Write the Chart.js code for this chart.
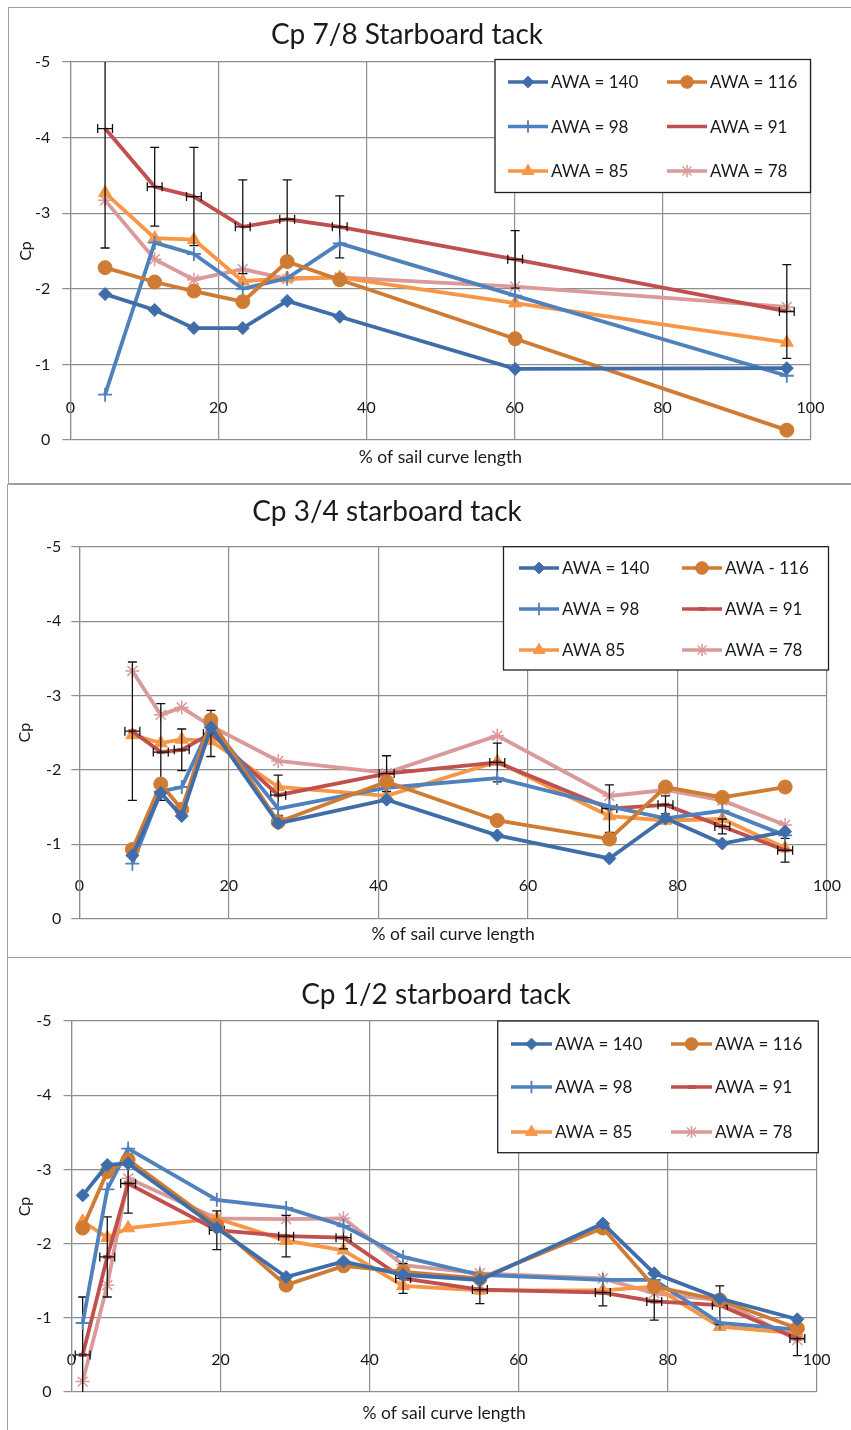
<!DOCTYPE html>
<html><head><meta charset="utf-8">
<script src="https://cdn.jsdelivr.net/npm/chart.js@4.4.1/dist/chart.umd.min.js"></script>
<style>
html,body{margin:0;padding:0;background:#fff;width:851px;height:1430px;overflow:hidden;}
.frame{position:absolute;border-left:1px solid #a0a0a0;border-top:1px solid #a0a0a0;border-bottom:1px solid #a0a0a0;box-sizing:border-box;}
canvas{position:absolute;left:0;}
</style></head><body>
<div class="frame" style="left:8px;top:7px;width:843px;height:477px"></div>
<div class="frame" style="left:7px;top:484px;width:844px;height:474px"></div>
<div class="frame" style="left:7px;top:957px;width:844px;height:480px;border-bottom:none"></div>
<canvas id="c1" width="851" height="484" style="top:0px"></canvas>
<canvas id="c2" width="851" height="473" style="top:484px"></canvas>
<canvas id="c3" width="851" height="473" style="top:957px"></canvas>
<script>
// ---------- DATA ----------
const xTicks = [0, 20, 40, 60, 80, 100];
const yTicks = [-5, -4, -3, -2, -1, 0];
const xAxisTitle = '% of sail curve length';
const yAxisTitle = 'Cp';

// Panel 1: Cp 7/8 Starboard tack
const p1Title = 'Cp 7/8 Starboard tack';
const p1Labels = ['AWA = 140', 'AWA = 116', 'AWA = 98', 'AWA = 91', 'AWA = 85', 'AWA = 78'];
const p1X   = [4.7, 11.4, 16.7, 23.3, 29.3, 36.4, 60.1, 96.8];
const p1_140 = [-1.93, -1.72, -1.48, -1.48, -1.84, -1.63, -0.94, -0.95];
const p1_116 = [-2.28, -2.09, -1.97, -1.83, -2.36, -2.12, -1.34, -0.13];
const p1_98  = [-0.60, -2.61, -2.46, -2.00, -2.14, -2.60, -1.91, -0.85];
const p1_91  = [-4.12, -3.35, -3.22, -2.82, -2.92, -2.82, -2.39, -1.70];
const p1_85  = [-3.27, -2.67, -2.65, -2.10, -2.14, -2.15, -1.81, -1.29];
const p1_78  = [-3.17, -2.39, -2.12, -2.26, -2.13, -2.15, -2.03, -1.76];
const p1ErrY = [1.58, 0.52, 0.65, 0.62, 0.52, 0.41, 0.38, 0.62];
const p1ErrX = [1, 1, 1, 1, 1, 1, 1, 1];

// Panel 2: Cp 3/4 starboard tack
const p2Title = 'Cp 3/4 starboard tack';
const p2Labels = ['AWA = 140', 'AWA - 116', 'AWA = 98', 'AWA = 91', 'AWA 85', 'AWA = 78'];
const p2X   = [7.1, 10.9, 13.7, 17.6, 26.6, 41.1, 55.9, 70.9, 78.4, 86.0, 94.4];
const p2_140 = [-0.85, -1.69, -1.38, -2.57, -1.28, -1.60, -1.12, -0.81, -1.35, -1.01, -1.17];
const p2_116 = [-0.93, -1.81, -1.47, -2.67, -1.30, -1.84, -1.32, -1.07, -1.77, -1.63, -1.77];
const p2_98  = [-0.74, -1.71, -1.77, -2.61, -1.48, -1.76, -1.89, -1.51, -1.35, -1.45, -1.12];
const p2_91  = [-2.52, -2.24, -2.27, -2.49, -1.66, -1.95, -2.10, -1.48, -1.53, -1.24, -0.92];
const p2_85  = [-2.47, -2.36, -2.41, -2.39, -1.77, -1.65, -2.11, -1.38, -1.32, -1.34, -0.95];
const p2_78  = [-3.33, -2.74, -2.84, -2.59, -2.12, -1.96, -2.46, -1.65, -1.73, -1.59, -1.26];
const p2ErrY = [0.93, 0.65, 0.28, 0.31, 0.27, 0.24, 0.26, 0.32, 0.12, 0.10, 0.16];
const p2ErrX = [1, 1, 1, 1, 1, 1, 1, 1, 1, 1, 1];

// Panel 3: Cp 1/2 starboard tack
const p3Title = 'Cp 1/2 starboard tack';
const p3Labels = ['AWA = 140', 'AWA = 116', 'AWA = 98', 'AWA = 91', 'AWA = 85', 'AWA = 78'];
const p3X   = [1.5, 4.8, 7.6, 19.5, 28.8, 36.5, 44.5, 54.8, 71.3, 78.2, 87.0, 97.4];
const p3_140 = [-2.65, -3.06, -3.08, -2.21, -1.55, -1.76, -1.58, -1.51, -2.27, -1.60, -1.26, -0.98];
const p3_116 = [-2.21, -2.97, -3.13, -2.25, -1.44, -1.70, -1.62, -1.53, -2.21, -1.42, -1.24, -0.86];
const p3_98  = [-0.93, -2.73, -3.28, -2.59, -2.48, -2.24, -1.82, -1.58, -1.51, -1.51, -0.93, -0.84];
const p3_91  = [-0.50, -1.82, -2.81, -2.18, -2.10, -2.08, -1.53, -1.38, -1.34, -1.22, -1.17, -0.72];
const p3_85  = [-2.30, -2.08, -2.21, -2.34, -2.04, -1.91, -1.43, -1.37, -1.37, -1.42, -0.88, -0.79];
const p3_78  = [-0.14, -1.44, -2.88, -2.34, -2.33, -2.34, -1.71, -1.60, -1.53, -1.33, -1.24, -0.70];
const p3ErrY = [0.78, 0.54, 0.40, 0.26, 0.28, 0.15, 0.20, 0.19, 0.18, 0.25, 0.26, 0.23];
const p3ErrX = [1, 1, 1, 1, 1, 1, 1, 1, 1, 1, 1, 1];

// ---------- STYLE ----------
const FONT = 'Lato, "Open Sans", sans-serif';
const TEXT = '#1a1a1a';
const GRID = '#8e8e8e';
const seriesStyles = [
  {color: '#3E6DA9', pointStyle: 'rectRot', radius: 6.5, bw: 1},
  {color: '#CF7B33', pointStyle: 'circle', radius: 7, bw: 1},
  {color: '#4F81BD', pointStyle: 'cross', radius: 7, bw: 1.8},
  {color: '#C0504D', pointStyle: 'line', radius: 4, bw: 4},
  {color: '#F79646', pointStyle: 'triangle', radius: 7.5, bw: 1},
  {color: '#D99A99', pointStyle: 'star', radius: 7, bw: 1.5}
];

// ---------- PLUGINS ----------
const errorBarPlugin = {
  id: 'errorBars',
  afterDatasetDraw(chart, args, opts) {
    if (!opts || !opts.yErr || args.index !== opts.datasetIndex) return;
    const xs = chart.scales.x, ys = chart.scales.y, a = chart.chartArea, ctx = chart.ctx;
    const ds = chart.data.datasets[args.index];
    const c = 4.5;
    ctx.save();
    ctx.beginPath(); ctx.rect(a.left, a.top, a.right - a.left, a.bottom - a.top); ctx.clip();
    ctx.strokeStyle = '#111'; ctx.lineWidth = 1.3;
    ds.data.forEach((p, i) => {
      const px = xs.getPixelForValue(p.x), py = ys.getPixelForValue(p.y);
      const y1 = ys.getPixelForValue(p.y - opts.yErr[i]), y2 = ys.getPixelForValue(p.y + opts.yErr[i]);
      const x1 = xs.getPixelForValue(p.x - opts.xErr[i]), x2 = xs.getPixelForValue(p.x + opts.xErr[i]);
      ctx.beginPath();
      ctx.moveTo(px, y1); ctx.lineTo(px, y2);
      ctx.moveTo(px - c, y1); ctx.lineTo(px + c, y1);
      ctx.moveTo(px - c, y2); ctx.lineTo(px + c, y2);
      ctx.moveTo(x1, py); ctx.lineTo(x2, py);
      ctx.moveTo(x1, py - c); ctx.lineTo(x1, py + c);
      ctx.moveTo(x2, py - c); ctx.lineTo(x2, py + c);
      ctx.stroke();
    });
    ctx.restore();
  }
};

function markerAt(ctx, st, x, y, showMarker) {
  if (!showMarker) return;
  ctx.save();
  ctx.fillStyle = st.color; ctx.strokeStyle = st.color; ctx.lineWidth = st.bw;
  if (Chart.helpers && Chart.helpers.drawPoint) {
    Chart.helpers.drawPoint(ctx, {pointStyle: st.pointStyle, radius: st.radius * 0.9, rotation: 0, borderWidth: st.bw}, x, y);
  }
  ctx.restore();
}

const boxLegendPlugin = {
  id: 'boxLegend',
  afterDraw(chart, args, o) {
    if (!o || !o.box) return;
    const ctx = chart.ctx;
    ctx.save();
    const b = o.box;
    ctx.fillStyle = '#fff';
    ctx.fillRect(b.l, b.t, b.r - b.l, b.b - b.t);
    ctx.strokeStyle = '#222'; ctx.lineWidth = 1.3;
    ctx.strokeRect(b.l, b.t, b.r - b.l, b.b - b.t);
    ctx.font = '17px ' + FONT;
    ctx.textBaseline = 'middle'; ctx.textAlign = 'left';
    chart.data.datasets.forEach((ds, i) => {
      const st = seriesStyles[i];
      const row = Math.floor(i / 2), col = i % 2;
      const y = o.rows[row], x0 = o.cols[col], x1 = x0 + o.lineLen;
      ctx.strokeStyle = st.color; ctx.lineWidth = 3.5; ctx.lineCap = 'butt';
      ctx.beginPath(); ctx.moveTo(x0, y); ctx.lineTo(x1, y); ctx.stroke();
      markerAt(ctx, st, (x0 + x1) / 2, y, ds.pointRadius > 0);
      ctx.fillStyle = TEXT;
      ctx.fillText(ds.label, x1 + 3, y + 1);
    });
    ctx.restore();
  }
};

const panelTitlePlugin = {
  id: 'panelTitle',
  afterDraw(chart, args, o) {
    if (!o || !o.text) return;
    const ctx = chart.ctx;
    ctx.save();
    ctx.font = '28px ' + FONT; ctx.fillStyle = TEXT;
    ctx.textAlign = 'center'; ctx.textBaseline = 'middle';
    ctx.fillText(o.text, o.x, o.y);
    ctx.restore();
  }
};

// ---------- BUILD ----------
function makePanel(id, p) {
  const datasets = p.series.map((vals, i) => {
    const st = seriesStyles[i];
    const noMarker = (i === 3 && p.hideRedMarker);
    return {
      label: p.labels[i],
      data: vals.map((v, k) => ({x: p.xs[k], y: v})),
      borderColor: st.color,
      backgroundColor: st.color,
      borderWidth: 3.8,
      tension: 0,
      pointStyle: st.pointStyle,
      pointRadius: noMarker ? 0 : st.radius,
      pointBorderWidth: st.bw,
      pointBackgroundColor: st.color,
      pointBorderColor: st.color
    };
  });
  const canvasH = p.h;
  new Chart(document.getElementById(id), {
    type: 'line',
    data: {datasets},
    plugins: [errorBarPlugin, boxLegendPlugin, panelTitlePlugin],
    options: {
      responsive: false, animation: false, devicePixelRatio: 1,
      layout: {padding: {left: 0, right: 851 - p.area.r, top: p.area.t, bottom: 0}},
      clip: false,
      scales: {
        x: {
          type: 'linear', min: xTicks[0], max: xTicks[xTicks.length - 1],
          position: {y: -0.5},
          afterBuildTicks: (s) => { s.ticks = xTicks.map(v => ({value: v})); },
          ticks: {padding: p.xTickPad, color: TEXT, font: {family: FONT, size: 16}, maxRotation: 0},
          grid: {color: GRID, lineWidth: 1.2, drawTicks: false},
          border: {display: false}
        },
        xt: {
          type: 'linear', position: 'bottom', min: 0, max: 100,
          ticks: {display: false}, grid: {display: false}, border: {display: false},
          title: {display: true, text: xAxisTitle, color: TEXT, font: {family: FONT, size: 17.5}, padding: {top: 0, bottom: p.xTitlePad}},
          afterFit: (s) => { s.height = canvasH - p.area.b; }
        },
        y: {
          type: 'linear', reverse: true, min: yTicks[0], max: yTicks[yTicks.length - 1],
          afterBuildTicks: (s) => { s.ticks = yTicks.map(v => ({value: v})); },
          ticks: {padding: p.yTickPad, color: TEXT, font: {family: FONT, size: 16}},
          grid: {color: GRID, lineWidth: 1.2, tickLength: 8, drawTicks: true},
          border: {display: true, color: GRID, width: 1.2},
          title: {display: true, text: yAxisTitle, color: TEXT, font: {family: FONT, size: 16}, padding: {top: p.yTitlePad, bottom: 0}},
          afterFit: (s) => { s.width = p.area.l; }
        }
      },
      plugins: {
        legend: {display: false},
        tooltip: {enabled: false},
        errorBars: {datasetIndex: 3, yErr: p.errY, xErr: p.errX},
        boxLegend: p.legend,
        panelTitle: p.title
      }
    }
  });
}

makePanel('c1', {
  h: 484, labels: p1Labels, xs: p1X,
  series: [p1_140, p1_116, p1_98, p1_91, p1_85, p1_78],
  errY: p1ErrY, errX: p1ErrX, hideRedMarker: true,
  area: {l: 70.3, r: 810.5, t: 62, b: 440},
  xTickPad: -4, yTickPad: 12, yTitlePad: 16, xTitlePad: 16,
  title: {text: p1Title, x: 407, y: 35},
  legend: {box: {l: 495, t: 59.5, r: 810.5, b: 192.5}, rows: [82, 126.5, 171], cols: [508, 667], lineLen: 40}
});

makePanel('c2', {
  h: 473, labels: p2Labels, xs: p2X,
  series: [p2_140, p2_116, p2_98, p2_91, p2_85, p2_78],
  errY: p2ErrY, errX: p2ErrX, hideRedMarker: false,
  area: {l: 79.3, r: 827, t: 62.7, b: 434.7},
  xTickPad: -5, yTickPad: 10, yTitlePad: 15, xTitlePad: 12,
  title: {text: p2Title, x: 387, y: 28},
  legend: {box: {l: 503.5, t: 62.7, r: 828.5, b: 186}, rows: [84, 125, 166], cols: [519, 682], lineLen: 40}
});

makePanel('c3', {
  h: 473, labels: p3Labels, xs: p3X,
  series: [p3_140, p3_116, p3_98, p3_91, p3_85, p3_78],
  errY: p3ErrY, errX: p3ErrX, hideRedMarker: false,
  area: {l: 71.5, r: 816.7, t: 64, b: 435},
  xTickPad: -5, yTickPad: 12, yTitlePad: 15, xTitlePad: 6,
  title: {text: p3Title, x: 436, y: 38},
  legend: {box: {l: 497.7, t: 64, r: 818.3, b: 195.7}, rows: [87, 130, 175], cols: [511, 671], lineLen: 41}
});
</script>
</body></html>
